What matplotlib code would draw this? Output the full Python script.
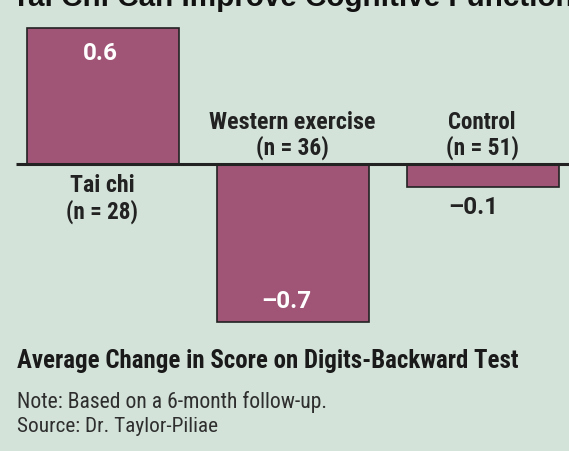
import matplotlib
matplotlib.use("Agg")
import matplotlib.pyplot as plt

categories = ["Tai chi", "Western exercise", "Control"]
sample_sizes = [28, 36, 51]
values = [0.6, -0.7, -0.1]
value_labels = ["0.6", "\u20130.7", "\u20130.1"]

title = "Tai Chi Can Improve Cognitive Function"
subtitle = "Average Change in Score on Digits-Backward Test"
note = "Note: Based on a 6-month follow-up."
source = "Source: Dr. Taylor-Piliae"

BG = "#d3e3d9"
BAR = "#a05577"
DARK = "#222222"
NARROW = ["Roboto Condensed", "Liberation Sans Narrow", "Roboto", "DejaVu Sans"]
NUMFONT = ["Roboto", "DejaVu Sans"]

W, H = 569, 452
fig = plt.figure(figsize=(W / 100, H / 100), dpi=100, facecolor=BG)
ax = fig.add_axes([0, 0, 1, 1])
ax.set_facecolor(BG)
ax.set_axis_off()

# bar centers spaced 190 px, first at 102.5 px; baseline at 165 px; 226 px per unit
ax.set_xlim(-102.5 / 190, (W - 102.5) / 190)
ax.set_ylim(-(H - 165) / 226, 165 / 226)

x = list(range(len(categories)))
ax.bar(x, values, width=0.8, color=BAR, edgecolor=DARK, linewidth=1.2, zorder=2)
ax.plot([-87 / 190, (W - 102.5) / 190 + 0.1], [0, 0], color=DARK, lw=2.2, zorder=3,
        clip_on=False, solid_capstyle="butt")

renderer = fig.canvas.get_renderer()


def fx(px):
    return px / W


def fy(py):
    return 1 - py / H


def fit_text(px, py, s, width, size=14, **kw):
    t = fig.text(fx(px), fy(py), s, fontsize=size, **kw)
    w = t.get_window_extent(renderer).width
    if w > 0:
        t.set_fontsize(size * width / w)
    return t


# value labels: (x, y, color)
val_pos = [(100.5, 53, "white"), (286, 302, "white"), (473, 208, DARK)]
for (px, py, c), lab in zip(val_pos, value_labels):
    fig.text(fx(px), fy(py), lab, ha="center", va="center", color=c,
             fontsize=17.5, fontweight="bold", family=NUMFONT)

# category labels: (x, y1, y2, width1, width2)
cat_pos = [(102, 186, 212, 65, 72), (292, 123, 148, 168, 73), (482, 123, 148, 68, 73)]
for (px, py1, py2, w1, w2), cat, n in zip(cat_pos, categories, sample_sizes):
    fit_text(px, py1, cat, w1, ha="center", va="center", color=DARK,
             fontweight="bold", family=NARROW)
    fit_text(px, py2, f"(n = {n})", w2, ha="center", va="center", color=DARK,
             fontweight="bold", family=NARROW)

fit_text(12, 6, title, 562, ha="left", va="baseline", color="#111111",
         fontweight="bold", family=["Liberation Sans", "DejaVu Sans"])

fit_text(17, 361, subtitle, 503, ha="left", va="center", color="#1a1a1a",
         fontweight="bold", family=NARROW)
fit_text(17, 402, note, 312, ha="left", va="center", color="#2e2e2e",
         family=NARROW)
fit_text(17, 427, source, 202, ha="left", va="center", color="#2e2e2e",
         family=NARROW)

fig.savefig("out.png", dpi=100, facecolor=BG)
